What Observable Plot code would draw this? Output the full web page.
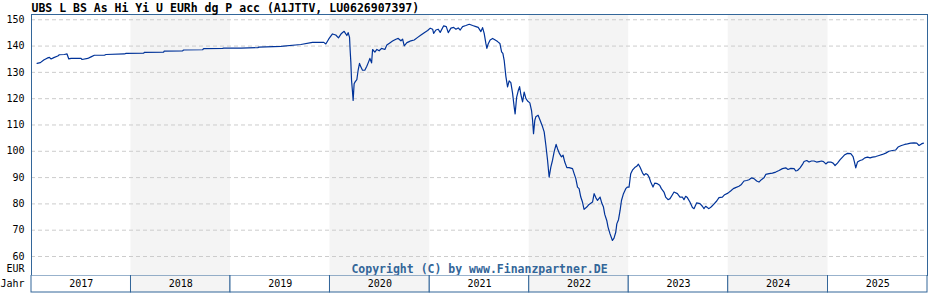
<!DOCTYPE html>
<html>
<head>
<meta charset="utf-8">
<script src="https://cdn.jsdelivr.net/npm/d3@7"></script>
<script src="https://cdn.jsdelivr.net/npm/@observablehq/plot@0.6"></script>
<style>
  html, body { margin: 0; padding: 0; background: #fff; }
  #chart { position: relative; width: 928px; height: 300px; overflow: hidden; }
  #chart svg { position: absolute; left: 0; }
</style>
</head>
<body>
<div id="chart"></div>
<script>
const title = "UBS L BS As Hi Yi U EURh dg P acc (A1JTTV, LU0626907397)";
const copyright = "Copyright (C) by www.Finanzpartner.DE";
const unitLabel = "EUR";
const yearLabel = "Jahr";
const years = [2017, 2018, 2019, 2020, 2021, 2022, 2023, 2024, 2025];
const shadedYears = [2018, 2020, 2022, 2024];
const yTicks = [60, 70, 80, 90, 100, 110, 120, 130, 140, 150];

// decimal-year time stamps
const times = [
2017.056,2017.089,2017.123,2017.157,2017.180,2017.197,2017.224,2017.264,2017.280,2017.330,
2017.357,2017.375,2017.398,2017.498,2017.508,2017.565,2017.598,2017.632,2017.732,2017.749,
2017.933,2017.950,2018.128,2018.134,2018.328,2018.334,2018.519,2018.529,2018.720,2018.730,
2018.921,2018.931,2019.104,2019.275,2019.285,2019.506,2019.707,2019.824,2019.938,2019.958,
2019.988,2020.025,2020.058,2020.085,2020.115,2020.142,2020.169,2020.182,2020.196,2020.202,
2020.209,2020.216,2020.226,2020.232,2020.242,2020.252,2020.269,2020.282,2020.296,2020.309,
2020.326,2020.349,2020.369,2020.387,2020.400,2020.417,2020.427,2020.450,2020.470,2020.493,
2020.517,2020.550,2020.570,2020.603,2020.627,2020.661,2020.684,2020.711,2020.728,2020.744,
2020.771,2020.794,2020.811,2020.844,2020.879,2020.912,2020.945,2020.979,2021.005,2021.029,
2021.039,2021.062,2021.085,2021.105,2021.140,2021.166,2021.186,2021.213,2021.240,2021.263,
2021.286,2021.306,2021.330,2021.363,2021.397,2021.431,2021.464,2021.487,2021.514,2021.531,
2021.547,2021.564,2021.574,2021.587,2021.607,2021.632,2021.658,2021.682,2021.705,2021.722,
2021.735,2021.748,2021.765,2021.782,2021.798,2021.815,2021.832,2021.848,2021.858,2021.873,
2021.889,2021.903,2021.916,2021.933,2021.949,2021.966,2021.983,2022.006,2022.023,2022.033,
2022.043,2022.056,2022.066,2022.089,2022.109,2022.134,2022.150,2022.167,2022.184,2022.200,
2022.217,2022.234,2022.250,2022.270,2022.284,2022.304,2022.324,2022.340,2022.357,2022.378,
2022.401,2022.435,2022.451,2022.468,2022.485,2022.501,2022.518,2022.535,2022.551,2022.578,
2022.601,2022.636,2022.652,2022.669,2022.686,2022.712,2022.729,2022.746,2022.759,2022.779,
2022.792,2022.812,2022.836,2022.852,2022.870,2022.880,2022.897,2022.913,2022.927,2022.947,
2022.970,2022.987,2023.003,2023.020,2023.037,2023.060,2023.080,2023.097,2023.113,2023.138,
2023.154,2023.171,2023.188,2023.204,2023.221,2023.244,2023.261,2023.288,2023.311,2023.328,
2023.354,2023.371,2023.395,2023.415,2023.439,2023.455,2023.489,2023.515,2023.539,2023.555,
2023.572,2023.589,2023.615,2023.640,2023.656,2023.683,2023.716,2023.740,2023.756,2023.773,
2023.790,2023.806,2023.830,2023.856,2023.884,2023.907,2023.941,2023.964,2023.997,2024.024,
2024.051,2024.074,2024.107,2024.132,2024.158,2024.185,2024.208,2024.235,2024.258,2024.285,
2024.308,2024.332,2024.358,2024.376,2024.409,2024.443,2024.476,2024.509,2024.543,2024.576,
2024.599,2024.627,2024.660,2024.677,2024.694,2024.720,2024.744,2024.760,2024.787,2024.810,
2024.834,2024.860,2024.885,2024.911,2024.935,2024.955,2024.978,2025.001,2025.028,2025.051,
2025.071,2025.095,2025.122,2025.146,2025.169,2025.196,2025.229,2025.252,2025.266,2025.279,
2025.296,2025.322,2025.346,2025.370,2025.397,2025.423,2025.447,2025.480,2025.513,2025.547,
2025.580,2025.613,2025.648,2025.681,2025.704,2025.738,2025.771,2025.798,2025.831,2025.865,
2025.892,2025.915,2025.939,2025.959
];
const prices = [
133.4,133.7,134.7,135.4,135.7,135.1,135.6,136.2,136.7,136.8,
137.0,135.1,135.3,135.3,134.9,135.3,135.9,136.5,136.5,136.8,
137.0,137.2,137.3,137.6,137.7,138.1,138.2,138.5,138.6,139.0,
139.1,139.2,139.2,139.4,139.6,139.9,140.6,141.4,141.4,140.8,
142.7,144.6,144.2,143.1,144.8,145.6,144.0,145.1,143.3,138.5,
134.0,127.0,122.5,119.3,125.7,126.4,127.2,130.8,133.4,132.1,
130.8,130.8,132.3,134.0,135.3,133.6,138.7,137.7,138.7,138.2,
139.1,138.7,140.4,141.3,141.9,142.6,142.9,142.0,142.6,140.1,
141.3,141.7,142.0,142.3,143.3,144.2,145.1,145.9,146.8,146.4,
144.8,146.1,146.4,145.2,147.7,147.4,145.1,146.8,147.1,146.4,
146.9,146.1,147.4,147.8,148.3,147.8,147.4,147.1,145.5,147.0,
144.8,141.0,139.1,140.8,142.3,142.9,142.3,141.7,141.0,137.8,
137.2,134.6,128.5,124.5,126.8,126.1,122.2,117.0,114.2,120.5,
123.0,124.6,121.5,118.8,122.5,120.1,119.1,118.4,115.5,112.0,
106.7,111.8,113.1,113.7,111.8,109.3,107.4,102.3,96.6,90.2,
94.0,96.6,99.8,102.6,101.0,99.1,97.9,98.5,95.9,93.8,
93.8,93.4,91.5,89.6,86.4,85.8,82.6,80.7,77.9,78.8,
79.8,80.7,83.9,82.4,81.3,82.6,80.3,78.8,76.0,73.7,
71.2,68.6,66.1,67.0,69.3,72.4,74.0,77.5,81.3,83.9,
85.8,86.4,86.4,91.5,92.8,93.8,94.3,95.1,94.0,91.8,
90.9,91.5,91.2,90.2,88.3,86.4,87.9,87.7,87.1,85.8,
84.5,82.6,81.6,82.0,83.5,84.5,83.9,82.6,82.6,81.6,
82.9,82.4,80.7,78.6,78.2,80.4,80.1,79.1,78.2,79.1,
78.6,78.2,78.9,79.9,81.1,82.4,82.6,83.5,84.1,84.9,
85.8,86.2,86.7,87.4,88.7,88.9,89.2,89.9,89.6,88.7,
88.3,89.2,89.9,91.2,91.5,91.7,92.1,92.7,93.4,93.7,
93.1,93.5,93.4,92.5,92.7,93.7,95.0,96.1,96.5,95.9,
96.3,96.3,95.9,96.1,96.3,96.1,95.2,95.9,95.9,95.5,
94.6,95.5,96.8,97.8,98.7,99.2,99.1,98.0,95.9,93.7,
95.9,96.5,96.8,97.5,97.8,97.5,97.8,98.0,98.4,98.8,
99.3,100.0,100.3,100.5,101.6,102.2,102.6,102.8,103.1,103.2,
103.1,102.2,102.8,103.1
];

const toDate = t => {
  const y = Math.floor(t);
  const s = new Date(Date.UTC(y, 0, 1)), e = new Date(Date.UTC(y + 1, 0, 1));
  return new Date(+s + (t - y) * (e - s));
};
const yearStart = y => new Date(Date.UTC(y, 0, 1));
const data = times.map((t, i) => ({date: toDate(t), value: prices[i]}));

const mono = "DejaVu Sans Mono";
const borderColor = "#336699";
const xDomain = [yearStart(years[0]), yearStart(years[years.length - 1] + 1)];

const main = Plot.plot({
  width: 928,
  height: 276,
  marginTop: 14,
  marginBottom: 1,
  marginLeft: 31,
  marginRight: 1,
  style: {fontFamily: mono, fontSize: "10px", color: "#000", background: "transparent"},
  x: {type: "utc", domain: xDomain, axis: null},
  y: {domain: [52.78, 152.0], axis: null, label: null},
  marks: [
    Plot.rect(shadedYears, {x1: d => yearStart(d), x2: d => yearStart(d + 1), fill: "#f4f4f4"}),
    Plot.gridY(yTicks, {stroke: "#cccccc", strokeOpacity: 1, strokeDasharray: "4,3"}),
    Plot.axisY(yTicks, {label: null, tickSize: 0, tickPadding: 7, fill: "#000", fontFamily: mono, fontSize: 10, tickFormat: d => String(d)}),
    Plot.line(data, {x: "date", y: "value", stroke: "#003399", strokeWidth: 1.2}),
    Plot.frame({stroke: borderColor}),
    Plot.text([title], {frameAnchor: "top-left", textAnchor: "start", lineAnchor: "bottom", dy: -2.5, fontFamily: mono, fontWeight: "bold", fontSize: 11.5, fill: "#000"}),
    Plot.text([copyright], {frameAnchor: "bottom", lineAnchor: "bottom", dy: -3, fontFamily: mono, fontWeight: "bold", fontSize: 11.5, fill: borderColor}),
    Plot.text([unitLabel], {frameAnchor: "bottom-left", textAnchor: "end", lineAnchor: "middle", dx: -7, dy: -7, fontFamily: mono, fontSize: 10, fill: "#000"})
  ]
});
main.style.top = "0px";

const band = Plot.plot({
  width: 928,
  height: 25,
  marginTop: 0,
  marginBottom: 8,
  marginLeft: 31,
  marginRight: 1,
  style: {fontFamily: mono, fontSize: "10px", color: "#000", background: "transparent"},
  x: {type: "utc", domain: xDomain, axis: null},
  marks: [
    Plot.rect(years, {x1: d => yearStart(d), x2: d => yearStart(d + 1), fill: d => shadedYears.includes(d) ? "#f4f4f4" : "#ffffff", stroke: borderColor}),
    Plot.text(years, {x: d => new Date((+yearStart(d) + +yearStart(d + 1)) / 2), text: d => String(d), fontFamily: mono, fontSize: 10, fill: "#000"}),
    Plot.text([yearLabel], {frameAnchor: "left", textAnchor: "end", dx: -7, fontFamily: mono, fontSize: 10, fill: "#000"})
  ]
});
band.style.top = "275px";

const chart = document.getElementById("chart");
chart.appendChild(main);
chart.appendChild(band);
</script>
</body>
</html>
